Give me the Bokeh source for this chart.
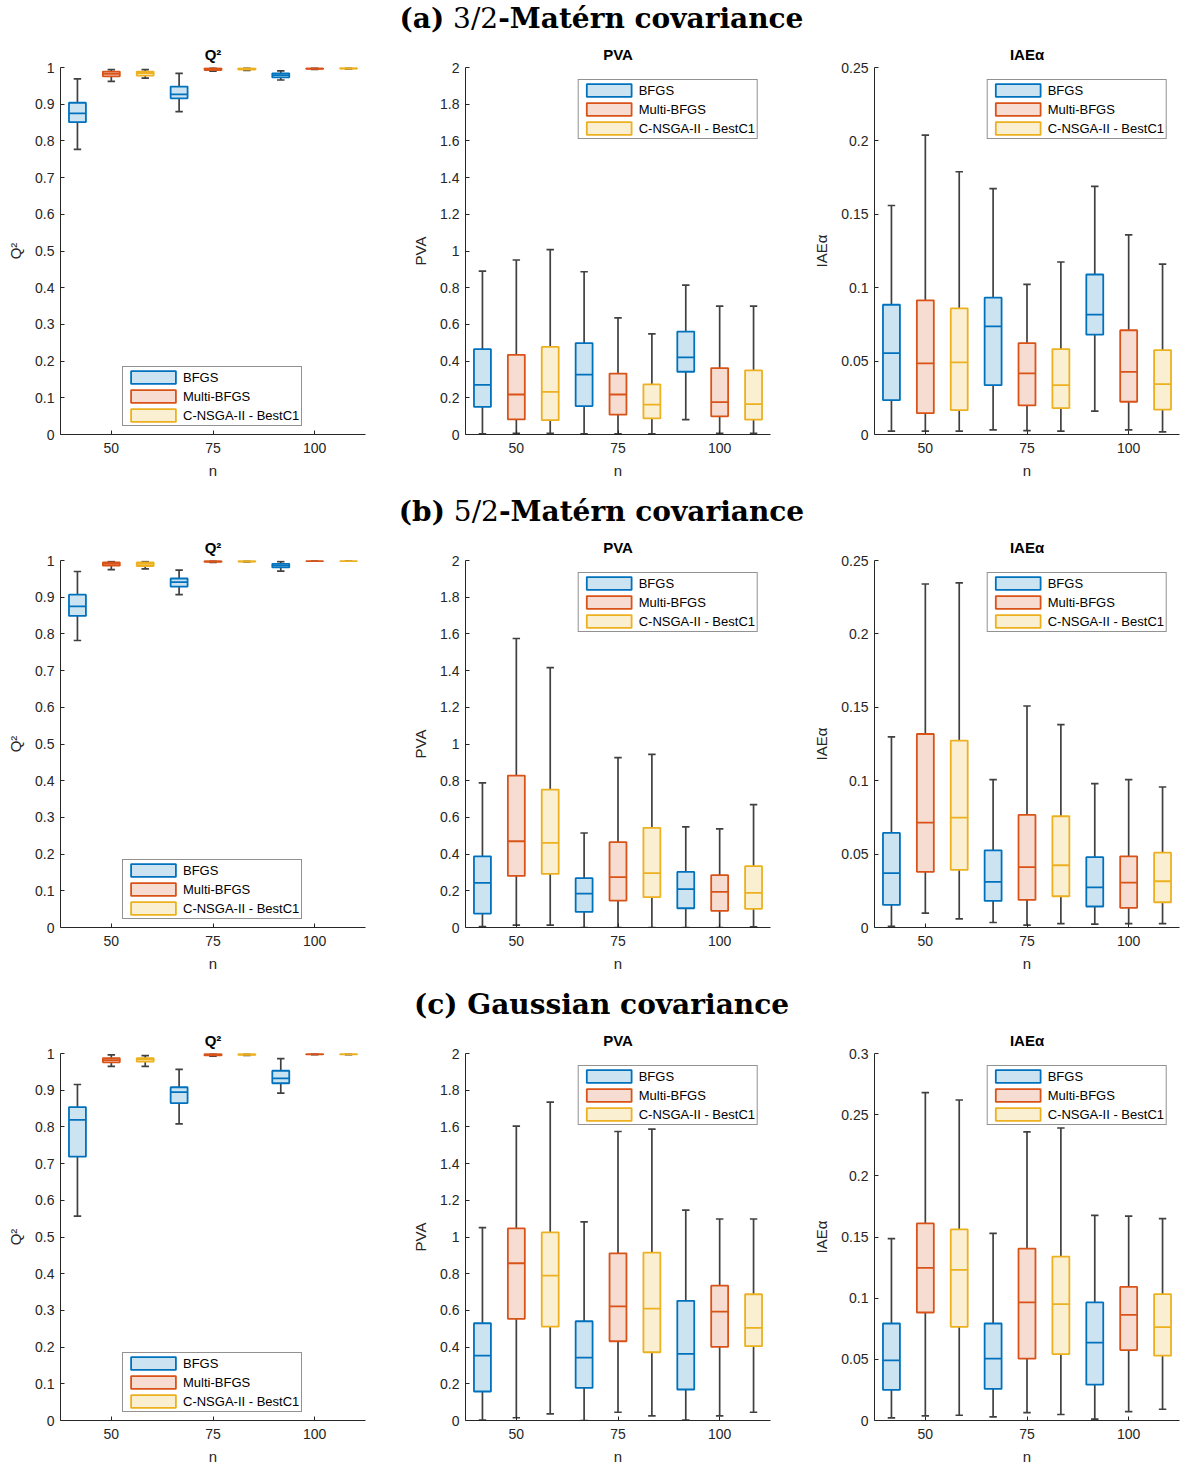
from bokeh.plotting import figure
from bokeh.models import (ColumnDataSource, FixedTicker, CustomJSTickFormatter,
                          Legend, LegendItem, Div)
from bokeh.layouts import column, row
from bokeh.embed import file_html
from bokeh.resources import INLINE

# categories
N_VALUES = [50, 75, 100]
METHODS = ["BFGS", "Multi-BFGS", "C-NSGA-II - BestC1"]
COLORS = ["#0072BD", "#D95319", "#EDB120"]

# y ticks
Q2_TICKS = [0, 0.1, 0.2, 0.3, 0.4, 0.5, 0.6, 0.7, 0.8, 0.9, 1]
PVA_TICKS = [0, 0.2, 0.4, 0.6, 0.8, 1, 1.2, 1.4, 1.6, 1.8, 2]
IAE_TICKS = [0, 0.05, 0.1, 0.15, 0.2, 0.25]
IAE_TICKS_C = [0, 0.05, 0.1, 0.15, 0.2, 0.25, 0.3]

# box order: (n=50: BFGS, Multi, NSGA), (n=75: ...), (n=100: ...)
# (a) 3/2-Matern
A_Q2_LO = [0.777, 0.962, 0.971, 0.880, 0.990, 0.992, 0.966, 0.995, 0.996]
A_Q2_Q1 = [0.851, 0.976, 0.978, 0.916, 0.993, 0.994, 0.973, 0.996, 0.997]
A_Q2_MED = [0.875, 0.983, 0.985, 0.927, 0.996, 0.996, 0.979, 0.997, 0.998]
A_Q2_Q3 = [0.904, 0.989, 0.989, 0.948, 0.998, 0.998, 0.984, 0.998, 0.999]
A_Q2_HI = [0.969, 0.994, 0.994, 0.984, 1.000, 0.999, 0.991, 0.999, 1.000]

A_PVA_LO = [0.003, 0.006, 0.006, 0.003, 0.003, 0.003, 0.081, 0.006, 0.006]
A_PVA_Q1 = [0.151, 0.082, 0.078, 0.155, 0.108, 0.088, 0.342, 0.099, 0.081]
A_PVA_MED = [0.270, 0.218, 0.232, 0.326, 0.218, 0.163, 0.420, 0.176, 0.166]
A_PVA_Q3 = [0.465, 0.434, 0.477, 0.498, 0.332, 0.273, 0.561, 0.362, 0.350]
A_PVA_HI = [0.890, 0.951, 1.007, 0.887, 0.636, 0.548, 0.814, 0.700, 0.700]

A_IAE_LO = [0.0023, 0.0023, 0.0023, 0.0032, 0.0027, 0.0023, 0.0159, 0.0032, 0.0018]
A_IAE_Q1 = [0.0234, 0.0145, 0.0166, 0.0336, 0.0198, 0.0180, 0.0680, 0.0223, 0.0170]
A_IAE_MED = [0.0555, 0.0484, 0.0491, 0.0736, 0.0416, 0.0336, 0.0816, 0.0427, 0.0343]
A_IAE_Q3 = [0.0884, 0.0914, 0.0859, 0.0932, 0.0623, 0.0582, 0.1090, 0.0710, 0.0575]
A_IAE_HI = [0.156, 0.204, 0.179, 0.1675, 0.1023, 0.1175, 0.169, 0.136, 0.116]

# (b) 5/2-Matern
B_Q2_LO = [0.782, 0.975, 0.977, 0.907, 0.995, 0.996, 0.971, 0.998, 0.998]
B_Q2_Q1 = [0.849, 0.986, 0.985, 0.929, 0.996, 0.997, 0.981, 0.9985, 0.9985]
B_Q2_MED = [0.875, 0.991, 0.991, 0.941, 0.998, 0.998, 0.986, 0.999, 0.999]
B_Q2_Q3 = [0.907, 0.9945, 0.9945, 0.951, 0.999, 0.999, 0.991, 0.9995, 0.9995]
B_Q2_HI = [0.970, 0.997, 0.997, 0.974, 1.000, 0.9995, 0.997, 1.000, 1.000]

B_PVA_LO = [0.005, 0.013, 0.013, 0.0, 0.0, 0.0, 0.0, 0.0, 0.004]
B_PVA_Q1 = [0.076, 0.281, 0.292, 0.085, 0.147, 0.165, 0.105, 0.091, 0.102]
B_PVA_MED = [0.243, 0.470, 0.461, 0.185, 0.274, 0.296, 0.209, 0.194, 0.189]
B_PVA_Q3 = [0.388, 0.828, 0.751, 0.269, 0.465, 0.543, 0.303, 0.285, 0.334]
B_PVA_HI = [0.788, 1.575, 1.416, 0.515, 0.926, 0.944, 0.548, 0.537, 0.670]

B_IAE_LO = [0.0007, 0.0098, 0.0059, 0.0034, 0.0016, 0.0027, 0.0023, 0.0027, 0.0027]
B_IAE_Q1 = [0.0154, 0.0379, 0.0392, 0.0181, 0.0188, 0.0213, 0.0143, 0.0134, 0.0172]
B_IAE_MED = [0.0370, 0.0715, 0.0749, 0.0311, 0.0411, 0.0424, 0.0274, 0.0306, 0.0315]
B_IAE_Q3 = [0.0644, 0.1318, 0.1273, 0.0526, 0.0767, 0.0758, 0.0479, 0.0485, 0.0510]
B_IAE_HI = [0.1298, 0.234, 0.2348, 0.1007, 0.1509, 0.1382, 0.098, 0.1007, 0.0957]

# (c) Gaussian
C_Q2_LO = [0.557, 0.965, 0.965, 0.808, 0.993, 0.995, 0.892, 0.997, 0.997]
C_Q2_Q1 = [0.719, 0.976, 0.978, 0.865, 0.995, 0.996, 0.919, 0.998, 0.998]
C_Q2_MED = [0.819, 0.982, 0.984, 0.895, 0.998, 0.998, 0.932, 0.999, 0.999]
C_Q2_Q3 = [0.854, 0.987, 0.987, 0.908, 0.9995, 0.999, 0.953, 0.9995, 0.9995]
C_Q2_HI = [0.9155, 0.996, 0.994, 0.957, 1.000, 0.9995, 0.986, 1.000, 1.000]

C_PVA_LO = [0.002, 0.015, 0.036, 0.0, 0.045, 0.025, 0.002, 0.025, 0.045]
C_PVA_Q1 = [0.158, 0.554, 0.512, 0.178, 0.432, 0.372, 0.169, 0.401, 0.405]
C_PVA_MED = [0.354, 0.857, 0.789, 0.343, 0.622, 0.610, 0.363, 0.593, 0.505]
C_PVA_Q3 = [0.530, 1.047, 1.025, 0.541, 0.911, 0.915, 0.652, 0.735, 0.688]
C_PVA_HI = [1.051, 1.604, 1.735, 1.082, 1.575, 1.588, 1.147, 1.098, 1.098]

C_IAE_LO = [0.0022, 0.0038, 0.0043, 0.0030, 0.0065, 0.0049, 0.0011, 0.0073, 0.0092]
C_IAE_Q1 = [0.0250, 0.0883, 0.0766, 0.0258, 0.0505, 0.0543, 0.0293, 0.0576, 0.0530]
C_IAE_MED = [0.0492, 0.1247, 0.1231, 0.0505, 0.0965, 0.0951, 0.0636, 0.0864, 0.0764]
C_IAE_Q3 = [0.0793, 0.1611, 0.1562, 0.0793, 0.1405, 0.1340, 0.0965, 0.1092, 0.1033]
C_IAE_HI = [0.1486, 0.268, 0.262, 0.153, 0.2359, 0.2391, 0.1677, 0.1671, 0.165]

ROW_TITLES = [
    "<b>(a)</b> 3/2<b>-Matérn covariance</b>",
    "<b>(b)</b> 5/2<b>-Matérn covariance</b>",
    "<b>(c) Gaussian covariance</b>",
]

FONT = "Liberation Sans"
TEXT = "#262626"
FRAME_W = 305
FRAME_H = 367
BOX_W = 0.5
CAP_W = 0.22


def box_panel(title, y_label, y_ticks, stats, legend_loc, border_right, border_bottom):
    lo, q1, med, q3, hi = stats
    p = figure(frame_width=FRAME_W, frame_height=FRAME_H,
               x_range=(0.5, 3 * len(N_VALUES) + 0.5),
               y_range=(y_ticks[0], y_ticks[-1]),
               title=title, output_backend="svg", toolbar_location=None,
               min_border_left=60, min_border_right=border_right,
               min_border_top=26, min_border_bottom=border_bottom)

    items = []
    for j, method in enumerate(METHODS):
        idx = [3 * i + j for i in range(len(N_VALUES))]
        xs = [k + 1 for k in idx]
        src = ColumnDataSource(data={
            'x': xs,
            'cl': [x - CAP_W / 2 for x in xs],
            'cr': [x + CAP_W / 2 for x in xs],
            'bl': [x - BOX_W / 2 for x in xs],
            'br': [x + BOX_W / 2 for x in xs],
            'lo': [lo[k] for k in idx],
            'q1': [q1[k] for k in idx],
            'med': [med[k] for k in idx],
            'q3': [q3[k] for k in idx],
            'hi': [hi[k] for k in idx],
        })
        # whiskers + caps
        p.segment(x0='x', y0='lo', x1='x', y1='q1', source=src, line_color="#404040", line_width=1.7)
        p.segment(x0='x', y0='q3', x1='x', y1='hi', source=src, line_color="#404040", line_width=1.7)
        p.segment(x0='cl', y0='lo', x1='cr', y1='lo', source=src, line_color="#404040", line_width=1.7)
        p.segment(x0='cl', y0='hi', x1='cr', y1='hi', source=src, line_color="#404040", line_width=1.7)
        # box + median
        r = p.vbar(x='x', width=BOX_W, bottom='q1', top='q3', source=src,
                   fill_color=COLORS[j], fill_alpha=0.2,
                   line_color=COLORS[j], line_width=1.8)
        p.segment(x0='bl', y0='med', x1='br', y1='med', source=src,
                  line_color=COLORS[j], line_width=1.8)
        items.append(LegendItem(label=method, renderers=[r]))

    legend = Legend(items=items, location=legend_loc, margin=12,
                    glyph_width=56, glyph_height=16, label_height=16,
                    spacing=3, padding=2, label_standoff=2,
                    label_text_font=FONT, label_text_font_size="13px",
                    label_text_color="#000000",
                    border_line_color=TEXT, border_line_width=1,
                    background_fill_alpha=1)
    p.add_layout(legend)

    p.xaxis.ticker = FixedTicker(ticks=[3 * i + 2 for i in range(len(N_VALUES))], minor_ticks=[])
    p.xaxis.major_label_overrides = {3 * i + 2: str(n) for i, n in enumerate(N_VALUES)}
    p.yaxis.ticker = FixedTicker(ticks=y_ticks, minor_ticks=[])
    p.yaxis.formatter = CustomJSTickFormatter(code="return String(Math.round(tick * 1000) / 1000);")

    p.xaxis.axis_label = "n"
    p.yaxis.axis_label = y_label
    for ax in (p.xaxis, p.yaxis):
        ax.major_tick_in = 4
        ax.major_tick_out = 0
        ax.axis_line_color = TEXT
        ax.major_tick_line_color = TEXT
        ax.major_label_text_font = FONT
        ax.major_label_text_font_size = "14px"
        ax.major_label_text_color = TEXT
        ax.axis_label_text_font = FONT
        ax.axis_label_text_font_size = "15px"
        ax.axis_label_text_font_style = "normal"
        ax.axis_label_text_color = TEXT
        ax.axis_label_standoff = 6
    p.xaxis.major_label_standoff = 8
    p.yaxis.major_label_standoff = 6
    p.yaxis.axis_label_standoff = 8

    p.title.align = "center"
    p.title.text_font = FONT
    p.title.text_font_size = "15px"
    p.title.text_font_style = "bold"
    p.title.text_color = "#000000"

    p.xgrid.visible = False
    p.ygrid.visible = False
    p.outline_line_color = None
    return p


panels = [
    [(A_Q2_LO, A_Q2_Q1, A_Q2_MED, A_Q2_Q3, A_Q2_HI),
     (A_PVA_LO, A_PVA_Q1, A_PVA_MED, A_PVA_Q3, A_PVA_HI),
     (A_IAE_LO, A_IAE_Q1, A_IAE_MED, A_IAE_Q3, A_IAE_HI)],
    [(B_Q2_LO, B_Q2_Q1, B_Q2_MED, B_Q2_Q3, B_Q2_HI),
     (B_PVA_LO, B_PVA_Q1, B_PVA_MED, B_PVA_Q3, B_PVA_HI),
     (B_IAE_LO, B_IAE_Q1, B_IAE_MED, B_IAE_Q3, B_IAE_HI)],
    [(C_Q2_LO, C_Q2_Q1, C_Q2_MED, C_Q2_Q3, C_Q2_HI),
     (C_PVA_LO, C_PVA_Q1, C_PVA_MED, C_PVA_Q3, C_PVA_HI),
     (C_IAE_LO, C_IAE_Q1, C_IAE_MED, C_IAE_Q3, C_IAE_HI)],
]

blocks = []
for r_i, (row_title, stats) in enumerate(zip(ROW_TITLES, panels)):
    bottom = 38 if r_i == 2 else 59
    iae_ticks = IAE_TICKS_C if r_i == 2 else IAE_TICKS
    div = Div(text=row_title, width=1177, height=28,
              styles={"font-family": "DejaVu Serif", "font-size": "28px",
                      "text-align": "center", "line-height": "28px",
                      "text-indent": "16px",
                      "color": "#000000", "width": "1177px"})
    p1 = box_panel("Q²", "Q²", Q2_TICKS, stats[0], (62, 8), 40, bottom)
    p2 = box_panel("PVA", "PVA", PVA_TICKS, stats[1], "top_right", 40, bottom)
    p3 = box_panel("IAEα", "IAEα", iae_ticks, stats[2], "top_right", 2, bottom)
    blocks.append(div)
    blocks.append(row(p1, p2, p3))

layout = column(*blocks)
open("out.html", "w").write(file_html(layout, INLINE))
